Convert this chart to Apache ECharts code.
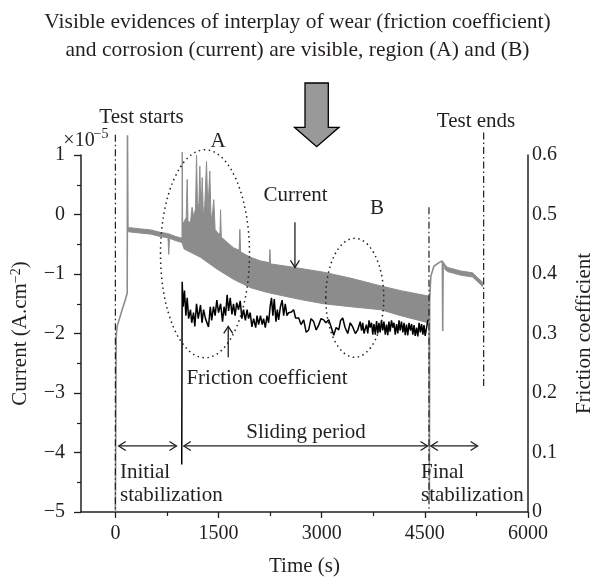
<!DOCTYPE html>
<html><head><meta charset="utf-8">
<script src="https://cdn.jsdelivr.net/npm/echarts@6/dist/echarts.min.js"></script>
<style>html,body{margin:0;padding:0;background:#fff}#c{width:595px;height:578px}</style>
</head><body><div id="c"></div>
<script>
// ---------- data ----------
const xTickValues = [0, 1500, 3000, 4500, 6000];
const xMinorTickValues = [750, 2250, 3750, 5250];

// current (x1e-5 A/cm2): initial rise + spike
const curStartT = [0, 12, 25, 60, 98, 140, 172, 176, 182, 192];
const curStartV = [-5.0, -2.05, -1.88, -1.75, -1.6, -1.45, -1.32, 1.33, -0.22, -0.24];
// current: pre-sliding plateau (band)
const platUpT = [190, 350, 520, 650, 760, 880, 968];
const platUpV = [-0.22, -0.24, -0.26, -0.30, -0.32, -0.37, -0.40];
const platLoT = [190, 350, 520, 650, 765, 776, 787, 880, 968];
const platLoV = [-0.29, -0.31, -0.33, -0.37, -0.39, -0.67, -0.40, -0.44, -0.47];
// current: sliding period (band with spikes)
const slideUpT = [968, 972, 978, 1000, 1030, 1044, 1056, 1092, 1115, 1140, 1165, 1180, 1195, 1215, 1228, 1245, 1263, 1280, 1300, 1325, 1345, 1373, 1392, 1415, 1431, 1450, 1500, 1522, 1529, 1540, 1627, 1718, 1800, 1810, 1822, 1966, 2112, 2240, 2247, 2256, 2548, 3029, 3422, 3859, 4150, 4550];
const slideUpV = [-0.40, 1.05, -0.15, -0.12, -0.05, 0.59, -0.12, -0.13, 0.12, -0.05, 0.10, 1.00, 0.05, 0.20, 0.81, 0.00, 0.62, -0.05, 0.15, 0.89, 0.05, 0.73, -0.10, 0.05, 0.25, -0.25, -0.33, -0.30, 0.08, -0.38, -0.47, -0.56, -0.60, -0.25, -0.63, -0.72, -0.78, -0.81, -0.59, -0.83, -0.88, -0.97, -1.07, -1.20, -1.28, -1.37];
const slideLoT = [968, 1000, 1238, 1481, 1718, 1966, 2209, 2694, 3029, 3422, 3859, 4150, 4550];
const slideLoV = [-0.47, -0.58, -0.72, -0.92, -1.09, -1.23, -1.31, -1.43, -1.50, -1.55, -1.60, -1.70, -1.82];
// current: end of sliding, drop and recovery
const curEndT = [4550, 4562, 4566, 4570, 4587, 4631, 4704, 4755, 4760, 4766, 4790];
const curEndV = [-1.60, -1.55, -4.75, -1.43, -1.04, -0.87, -0.81, -0.78, -1.96, -0.80, -0.86];
// current: final stabilization (band)
const postUpT = [4790, 4830, 5024, 5194, 5267, 5340];
const postUpV = [-0.84, -0.89, -0.95, -0.98, -1.06, -1.14];
const postLoT = [4790, 4830, 5024, 5194, 5267, 5340];
const postLoV = [-0.92, -0.96, -1.02, -1.05, -1.13, -1.21];

// friction coefficient
const fricT = [965, 971, 985, 1005, 1025, 1044, 1065, 1092, 1110, 1136, 1155, 1180, 1205, 1238, 1260, 1282, 1310, 1354, 1380, 1400, 1427, 1450, 1475, 1500, 1530, 1558, 1580, 1602, 1625, 1646, 1670, 1695, 1718, 1740, 1765, 1791, 1815, 1840, 1864, 1890, 1915, 1937, 1960, 1985, 2010, 2040, 2060, 2083, 2110, 2135, 2155, 2180, 2205, 2228, 2250, 2270, 2290, 2310, 2335, 2355, 2374, 2400, 2425, 2447, 2470, 2495, 2519, 2560, 2592, 2620, 2665, 2700, 2738, 2775, 2811, 2845, 2883, 2920, 2956, 2990, 3029, 3060, 3102, 3140, 3175, 3210, 3248, 3275, 3306, 3340, 3379, 3415, 3451, 3490, 3524, 3560, 3580, 3597, 3615, 3630, 3650, 3670, 3688, 3705, 3725, 3743, 3760, 3780, 3798, 3816, 3833, 3850, 3870, 3888, 3905, 3925, 3943, 3961, 3978, 3995, 4015, 4034, 4050, 4070, 4088, 4107, 4124, 4140, 4160, 4180, 4198, 4215, 4233, 4252, 4270, 4290, 4308, 4325, 4343, 4360, 4380, 4398, 4416, 4435, 4453, 4471, 4488, 4505, 4525, 4544];
const fricV = [0.08, 0.387, 0.345, 0.372, 0.33, 0.36, 0.325, 0.34, 0.318, 0.335, 0.312, 0.35, 0.325, 0.348, 0.318, 0.34, 0.325, 0.311, 0.345, 0.322, 0.345, 0.33, 0.356, 0.335, 0.35, 0.32, 0.345, 0.33, 0.365, 0.338, 0.36, 0.332, 0.35, 0.33, 0.352, 0.34, 0.355, 0.325, 0.34, 0.322, 0.34, 0.325, 0.335, 0.311, 0.325, 0.31, 0.33, 0.315, 0.33, 0.315, 0.325, 0.31, 0.33, 0.318, 0.345, 0.36, 0.33, 0.358, 0.32, 0.34, 0.323, 0.345, 0.356, 0.33, 0.35, 0.33, 0.335, 0.336, 0.34, 0.326, 0.326, 0.315, 0.323, 0.302, 0.306, 0.325, 0.32, 0.306, 0.314, 0.325, 0.323, 0.318, 0.323, 0.31, 0.297, 0.31, 0.306, 0.322, 0.326, 0.31, 0.30, 0.318, 0.311, 0.30, 0.306, 0.32, 0.305, 0.318, 0.30, 0.298, 0.315, 0.30, 0.322, 0.31, 0.318, 0.298, 0.316, 0.298, 0.321, 0.30, 0.318, 0.302, 0.322, 0.305, 0.32, 0.298, 0.315, 0.297, 0.32, 0.303, 0.322, 0.31, 0.318, 0.298, 0.316, 0.30, 0.322, 0.305, 0.32, 0.302, 0.318, 0.297, 0.315, 0.297, 0.318, 0.305, 0.316, 0.298, 0.314, 0.296, 0.31, 0.295, 0.318, 0.302, 0.316, 0.298, 0.314, 0.296, 0.31, 0.323];

// event markers (time, top value, bottom value on current axis)
const markerT = [0, 4560, 5355];
const markerTop = [1.34, 0.12, 1.38];
const markerBottom = [-5, -5, -2.9];

// ---------- styles ----------
const GRAY = '#8c8c8c';
const INK = '#231f20';
const FONT = '"Liberation Serif", "Times New Roman", serif';
const FS = 20;
const FT = 21;

const zip = (a, b) => a.map((v, i) => [v, b[i]]);

function band(upT, upV, loT, loV) {
  return {
    type: 'custom', xAxisIndex: 0, yAxisIndex: 0, clip: false, silent: true, z: 2,
    data: [[upT[0], upV[0]]],
    encode: { x: 0, y: 1 },
    renderItem: function (params, api) {
      const pts = [];
      for (let i = 0; i < upT.length; i++) pts.push(api.coord([upT[i], upV[i]]));
      for (let i = loT.length - 1; i >= 0; i--) pts.push(api.coord([loT[i], loV[i]]));
      return { type: 'polygon', shape: { points: pts }, style: { fill: GRAY, stroke: GRAY, lineWidth: 1 } };
    }
  };
}

const series = [
  band(platUpT, platUpV, platLoT, platLoV),
  band(slideUpT, slideUpV, slideLoT, slideLoV),
  band(postUpT, postUpV, postLoT, postLoV),
  { type: 'line', data: zip(curStartT, curStartV), symbol: 'none', clip: false, z: 3,
    lineStyle: { color: GRAY, width: 1.6 } },
  { type: 'line', data: zip(curEndT, curEndV), symbol: 'none', clip: false, z: 3,
    lineStyle: { color: GRAY, width: 1.6 } },
  { type: 'line', yAxisIndex: 1, data: zip(fricT, fricV), symbol: 'none', clip: false, z: 5,
    lineStyle: { color: '#000', width: 1.5 } }
];
markerT.forEach((t, i) => {
  series.push({ type: 'line', data: [[t, markerTop[i]], [t, markerBottom[i]]], symbol: 'none', clip: false, z: 4,
    lineStyle: { color: INK, width: 1.2, type: [7, 3, 1.5, 3] } });
});

const chart = echarts.init(document.getElementById('c'), null, { renderer: 'canvas' });
chart.setOption({
  animation: false,
  backgroundColor: '#fff',
  textStyle: { fontFamily: FONT, color: INK },
  grid: { left: 81, right: 67, top: 155, bottom: 66, containLabel: false, outerBoundsMode: 'none' },
  xAxis: [{
    type: 'value', min: -500, max: 6000, position: 'bottom',
    name: 'Time (s)', nameLocation: 'middle', nameGap: 44,
    nameTextStyle: { fontFamily: FONT, fontSize: FT, color: INK },
    axisLine: { show: true, onZero: false, lineStyle: { color: INK, width: 1.5 } },
    axisTick: { show: true, customValues: xTickValues, length: 6, lineStyle: { color: INK, width: 1.3 } },
    axisLabel: { customValues: xTickValues, margin: 12, fontFamily: FONT, fontSize: FS, color: INK,
      formatter: v => String(v) },
    splitLine: { show: false }
  }, {
    type: 'value', min: -500, max: 6000, position: 'bottom',
    axisLine: { show: false, onZero: false },
    axisTick: { show: true, customValues: xMinorTickValues, length: 4, lineStyle: { color: INK, width: 1.2 } },
    axisLabel: { show: false },
    splitLine: { show: false }
  }],
  yAxis: [{
    type: 'value', min: -5, max: 1, interval: 1, position: 'left',
    name: 'Current (A.cm{sup|\u22122})', nameLocation: 'middle', nameGap: 49,
    nameTextStyle: { fontFamily: FONT, fontSize: FT, color: INK,
      rich: { sup: { fontFamily: FONT, fontSize: 14, color: INK, padding: [0, 0, 9, 0] } } },
    axisLine: { show: true, onZero: false, lineStyle: { color: INK, width: 1.5 } },
    axisTick: { show: true, length: 7, lineStyle: { color: INK, width: 1.3 } },
    minorTick: { show: true, splitNumber: 2, length: 4, lineStyle: { color: INK, width: 1.2 } },
    axisLabel: { margin: 16, fontFamily: FONT, fontSize: FS, color: INK,
      formatter: v => String(v).replace('-', '\u2212') },
    splitLine: { show: false }
  }, {
    type: 'value', min: 0, max: 0.6, interval: 0.1, position: 'right',
    name: 'Friction coefficient', nameLocation: 'middle', nameGap: 46,
    nameTextStyle: { fontFamily: FONT, fontSize: FT, color: INK },
    axisLine: { show: true, onZero: false, lineStyle: { color: INK, width: 1.5 } },
    axisTick: { show: false },
    axisLabel: { margin: 4, fontFamily: FONT, fontSize: FS, color: INK,
      formatter: v => (v === 0 ? '0' : v.toFixed(1)) },
    splitLine: { show: false }
  }],
  series: series
});

// ---------- annotations ----------
const P = (t, v) => chart.convertToPixel({ xAxisIndex: 0, yAxisIndex: 0 }, [t, v]);
function head(tip, dx, dy) {
  const L = 7, W = 4.5;
  const bx = tip[0] - dx * L, by = tip[1] - dy * L;
  const nx = -dy, ny = dx;
  return { type: 'polyline', z: 100, shape: { points: [[bx + nx * W, by + ny * W], tip, [bx - nx * W, by - ny * W]] },
    style: { stroke: INK, lineWidth: 1.3, fill: null } };
}
function vArrow(t, v1, v2) {
  const a = P(t, v1), b = P(t, v2);
  const d = b[1] > a[1] ? 1 : -1;
  return [{ type: 'line', z: 100, shape: { x1: a[0], y1: a[1], x2: b[0], y2: b[1] }, style: { stroke: INK, lineWidth: 1.3 } },
    head(b, 0, d)];
}
function hDouble(t1, t2, v) {
  const a = P(t1, v), b = P(t2, v);
  return [{ type: 'line', z: 100, shape: { x1: a[0], y1: a[1], x2: b[0], y2: b[1] }, style: { stroke: INK, lineWidth: 1.3 } },
    head(a, -1, 0), head(b, 1, 0)];
}
function txt(x, y, s, opt) {
  return Object.assign({ type: 'text', x: x, y: y, z: 100,
    style: Object.assign({ text: s, fontFamily: FONT, fontSize: FT, fill: INK, align: 'center', verticalAlign: 'middle' }, opt || {}) });
}
function ellipse(t, v, rx, ry) {
  const c = P(t, v);
  return { type: 'ellipse', z: 90, shape: { cx: c[0], cy: c[1], rx: rx, ry: ry },
    style: { fill: null, stroke: INK, lineWidth: 1.5, lineDash: [1.5, 3.5] } };
}

const g = [];
g.push(txt(297.5, 22, 'Visible evidences of interplay of wear (friction coefficient)', { fontSize: 21.5 }));
g.push(txt(297.5, 50, 'and corrosion (current) are visible, region (A) and (B)', { fontSize: 21.5 }));
g.push({ type: 'polygon', z: 100, shape: { points: [[305, 83], [328.3, 83], [328.3, 127.3], [339, 127.3], [316.7, 146.7], [294.5, 127.3], [305, 127.3]] },
  style: { fill: '#999999', stroke: '#000', lineWidth: 1.3 } });
g.push(txt(141.5, 117, 'Test starts'));
g.push(txt(476, 121, 'Test ends'));
g.push(txt(79, 141, '\u00d710', { fontSize: 20 }));
g.push(txt(101, 134, '\u22125', { fontSize: 14 }));
g.push(txt(218, 141, 'A'));
g.push(txt(377, 208, 'B'));
g.push(txt(295.5, 195, 'Current'));
g.push(txt(267, 378, 'Friction coefficient'));
g.push(txt(306, 432, 'Sliding period'));
g.push(txt(120, 472, 'Initial', { align: 'left' }));
g.push(txt(120, 495, 'stabilization', { align: 'left' }));
g.push(txt(421, 472, 'Final', { align: 'left' }));
g.push(txt(421, 495, 'stabilization', { align: 'left' }));
g.push(ellipse(1303, -0.66, 44.5, 104));
g.push(ellipse(3481, -1.40, 29, 59.5));
g.push(...vArrow(2611, -0.13, -0.89));
g.push(...vArrow(1641, -2.40, -1.88));
g.push(...hDouble(48, 888, -3.89));
g.push(...hDouble(995, 4539, -3.89));
g.push(...hDouble(4587, 5267, -3.89));
chart.setOption({ graphic: { elements: g } });
</script>
</body></html>
